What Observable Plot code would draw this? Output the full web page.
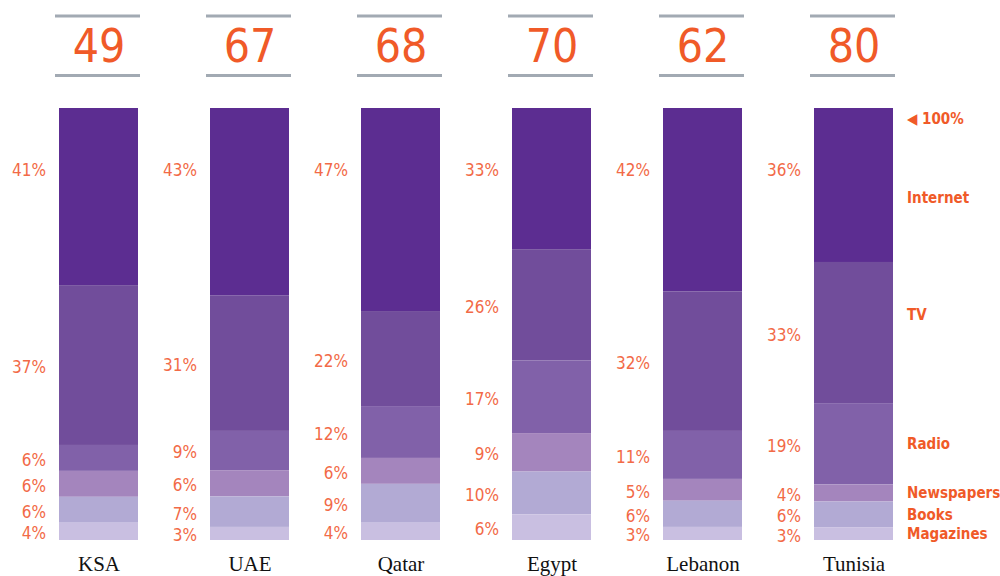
<!DOCTYPE html>
<html>
<head>
<meta charset="utf-8">
<script src="https://cdn.jsdelivr.net/npm/d3@7"></script>
<script src="https://cdn.jsdelivr.net/npm/@observablehq/plot@0.6"></script>
<style>
  html, body { margin: 0; padding: 0; background: #fff; }
  #chart { width: 1000px; height: 576px; }
  #chart svg { font-stretch: condensed; overflow: visible; }
</style>
</head>
<body>
<div id="chart"></div>
<script>
const countries = ["KSA", "UAE", "Qatar", "Egypt", "Lebanon", "Tunisia"];
const totals = [49, 67, 68, 70, 62, 80];
const media = ["Internet", "TV", "Radio", "Newspapers", "Books", "Magazines"];
const internet = [41, 43, 47, 33, 42, 36];
const tv = [37, 31, 22, 26, 32, 33];
const radio = [6, 9, 12, 17, 11, 19];
const newspapers = [6, 6, 6, 9, 5, 4];
const books = [6, 7, 9, 10, 6, 6];
const magazines = [4, 3, 4, 6, 3, 3];
const mediaColors = ["#5c2d91", "#714d9b", "#8161a9", "#a485bd", "#b2aad4", "#c9bfe1"];

const series = [internet, tv, radio, newspapers, books, magazines];
const data = countries.flatMap((c, i) => media.map((m, j) => ({country: c, media: m, value: series[j][i]})));
const totalsData = countries.map((c, i) => ({country: c, total: totals[i]}));
const stackOrder = [...media].reverse();

const orange = "#f05a28";
const labelOrange = "#f26a47";
const narrow = "'DejaVu Sans Condensed', 'DejaVu Sans', sans-serif";
const lastCountry = countries[countries.length - 1];

const stk = (extra) => Plot.stackY({x: "country", y: "value", z: "media", offset: "normalize", order: stackOrder, ...extra});

const chart = Plot.plot({
  width: 1000,
  height: 576,
  marginTop: 108,
  marginBottom: 36,
  marginLeft: 12,
  marginRight: 61,
  x: {domain: countries, paddingInner: 0.478, paddingOuter: 0.3, axis: null},
  y: {domain: [0, 1], axis: null},
  color: {domain: media, range: mediaColors},
  marks: [
    Plot.barY(data, stk({fill: "media"})),
    // gray rules framing the totals
    Plot.tickY(countries, {x: d => d, y: () => 1, dy: -92.5, stroke: "#a2aab3", strokeWidth: 3, insetLeft: -4, insetRight: -2}),
    Plot.tickY(countries, {x: d => d, y: () => 1, dy: -33, stroke: "#a2aab3", strokeWidth: 3, insetLeft: -4, insetRight: -2}),
    // totals
    Plot.text(totalsData, {x: "country", frameAnchor: "top", dy: -61, text: d => String(d.total), fill: orange, fontSize: 46, fontFamily: narrow, lineAnchor: "middle"}),
    // internet share labels (aligned near the top)
    Plot.text(data, {filter: d => d.media === "Internet", x: "country", frameAnchor: "top", dy: 62, dx: -53, textAnchor: "end", text: d => d.value + "%", fill: labelOrange, fontSize: 17, fontFamily: narrow, lineAnchor: "middle"}),
    // other share labels at segment midpoints
    Plot.text(data, stk({text: d => d.media === "Internet" ? null : d.value + "%", dx: -53, dy: 2, textAnchor: "end", fill: labelOrange, fontSize: 17, fontFamily: narrow, lineAnchor: "middle"})),
    // legend on the right, positioned beside the last bar
    Plot.text(data, stk({text: d => d.country === lastCountry && d.media === "Internet" ? d.media : null, dx: 53, dy: 13, textAnchor: "start", fill: orange, fontSize: 15, fontWeight: "bold", fontFamily: narrow, lineAnchor: "middle"})),
    Plot.text(data, stk({text: d => d.country === lastCountry && d.media === "TV" ? d.media : null, dx: 53, dy: -18, textAnchor: "start", fill: orange, fontSize: 15, fontWeight: "bold", fontFamily: narrow, lineAnchor: "middle"})),
    Plot.text(data, stk({text: d => d.country === lastCountry && !["Internet", "TV"].includes(d.media) ? d.media : null, dx: 53, dy: 0, textAnchor: "start", fill: orange, fontSize: 15, fontWeight: "bold", fontFamily: narrow, lineAnchor: "middle"})),
    Plot.text([lastCountry], {x: d => d, frameAnchor: "top", dy: 11, dx: 53, text: () => "\u25C0 100%", textAnchor: "start", fill: orange, fontSize: 15, fontWeight: "bold", fontFamily: narrow, lineAnchor: "middle"}),
    // country names
    Plot.text(countries, {x: d => d, frameAnchor: "bottom", dy: 24, text: d => d, fill: "#111", fontSize: 21, fontFamily: "'Liberation Serif', 'Times New Roman', serif", lineAnchor: "middle"})
  ]
});
document.getElementById("chart").appendChild(chart);
</script>
</body>
</html>
